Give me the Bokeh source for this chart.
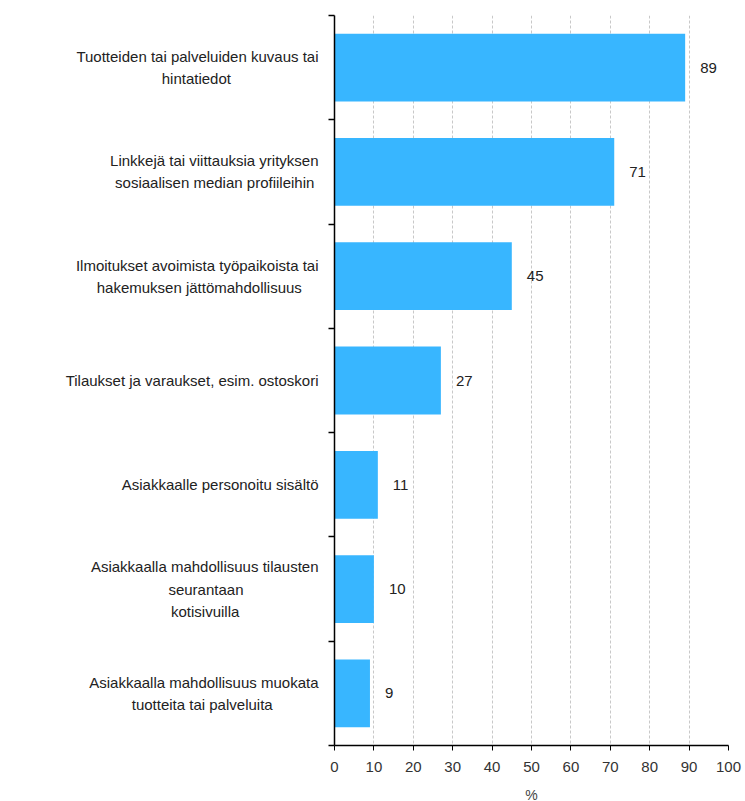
from bokeh.plotting import figure
from bokeh.models import Range1d, FixedTicker, ColumnDataSource
from bokeh.core.properties import value
from bokeh.embed import file_html
from bokeh.resources import INLINE

categories = [
    "Tuotteiden tai palveluiden kuvaus tai\nhintatiedot",
    "Linkkejä tai viittauksia yrityksen\nsosiaalisen median profiileihin",
    "Ilmoitukset avoimista työpaikoista tai\nhakemuksen jättömahdollisuus",
    "Tilaukset ja varaukset, esim. ostoskori",
    "Asiakkaalle personoitu sisältö",
    "Asiakkaalla mahdollisuus tilausten\nseurantaan\nkotisivuilla",
    "Asiakkaalla mahdollisuus muokata\ntuotteita tai palveluita",
]
values = [89, 71, 45, 27, 11, 10, 9]
x_ticks = [0, 10, 20, 30, 40, 50, 60, 70, 80, 90, 100]

FONT = "Liberation Sans"
FS = 15

# approximate Arial/Liberation Sans advance widths (per 1000 em), used to centre label lines
_W = {" ": 278, "\u00a0": 278, "a": 556, "b": 556, "c": 500, "d": 556, "e": 556, "f": 278,
      "g": 556, "h": 556, "i": 222, "j": 222, "k": 500, "l": 222, "m": 833, "n": 556,
      "o": 556, "p": 556, "q": 556, "r": 333, "s": 500, "t": 278, "u": 556, "v": 500,
      "w": 722, "x": 500, "y": 500, "z": 500, "ä": 556, "ö": 556, "T": 611, "L": 667,
      "I": 278, "A": 667, ",": 278, ".": 278}


def centred(label):
    lines = label.split("\n")
    widths = [sum(_W.get(ch, 556) for ch in ln) for ln in lines]
    wmax = max(widths)
    out = []
    for ln, w in zip(lines, widths):
        pad = int(round((wmax - w) / 2 / 278))
        out.append(ln + "\u00a0" * pad)
    return "\n".join(out)


n = len(categories)
ypos = [i + 0.5 for i in range(n)]
src = ColumnDataSource(dict(y=ypos, v=values, lab=[str(v) for v in values]))

p = figure(width=745, height=801, output_backend="svg", toolbar_location=None,
           x_range=Range1d(0, 100), y_range=Range1d(n, 0),
           frame_width=394, frame_height=730,
           min_border_left=334, min_border_right=17, min_border_top=15, min_border_bottom=56)
p.outline_line_color = None
p.background_fill_color = "white"

p.hbar(y="y", left=0, right="v", height=0.65, source=src, color="#38b6ff", line_color=None)
p.text(x="v", y="y", text="lab", source=src, x_offset=15, text_align="left",
       text_baseline="middle", text_font=value(FONT), text_font_size=f"{FS}px",
       text_color="#222222")

# x axis
p.xaxis.ticker = FixedTicker(ticks=x_ticks)
p.xaxis.axis_label = "%"
p.xaxis.axis_label_text_font_style = "normal"
p.xaxis.axis_label_text_font = FONT
p.xaxis.axis_label_text_font_size = "14px"
p.xaxis.axis_label_standoff = 12
p.xaxis.major_label_text_font = FONT
p.xaxis.major_label_text_font_size = f"{FS}px"
p.xaxis.major_label_text_color = "#333333"
p.xaxis.axis_line_color = "black"
p.xaxis.axis_line_width = 1.5
p.xaxis.major_tick_line_color = "black"
p.xaxis.major_tick_out = 5
p.xaxis.major_tick_in = 0
p.xaxis.minor_tick_line_color = None
p.xaxis.major_label_standoff = 11

# y axis: labels at category centres, ticks at category boundaries
p.yaxis.ticker = FixedTicker(ticks=ypos, minor_ticks=list(range(n + 1)))
p.yaxis.major_label_overrides = {y: centred(c) for y, c in zip(ypos, categories)}
p.yaxis.major_label_text_font = FONT
p.yaxis.major_label_text_font_size = f"{FS}px"
p.yaxis.major_label_text_color = "#222222"
p.yaxis.major_label_text_line_height = 1.3
p.yaxis.major_label_standoff = 10
p.yaxis.major_tick_out = 0
p.yaxis.major_tick_in = 0
p.yaxis.minor_tick_out = 6
p.yaxis.minor_tick_in = 0
p.yaxis.minor_tick_line_color = "black"
p.yaxis.minor_tick_line_width = 1.5
p.yaxis.axis_line_color = "black"
p.yaxis.axis_line_width = 1.5

p.ygrid.grid_line_color = None
p.xgrid.grid_line_color = "#c8c8c8"
p.xgrid.grid_line_dash = "3 2"
p.xgrid.grid_line_width = 1

open("out.html", "w").write(file_html(p, INLINE))
